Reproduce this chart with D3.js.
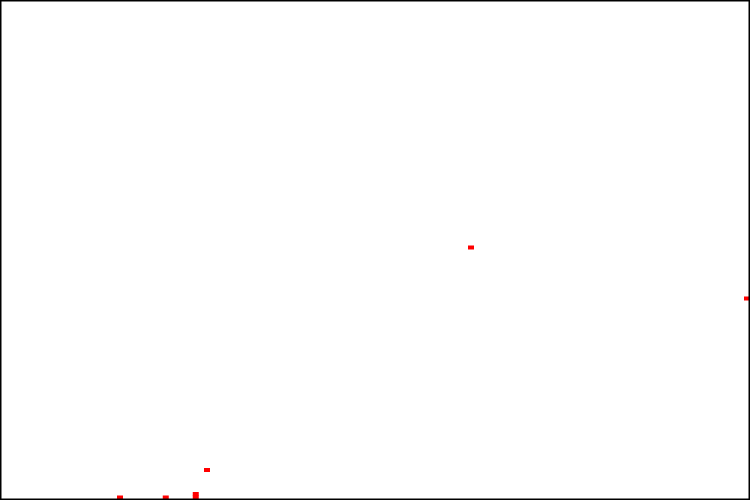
<!DOCTYPE html>
<html>
<head>
<meta charset="utf-8">
<script src="https://cdn.jsdelivr.net/npm/d3@7"></script>
<style>
	html, body { margin: 0; padding: 0; background: #fff; }
	svg { display: block; }
</style>
</head>
<body>
<div id="chart"></div>
<script>
// data (x and y both on a 0..100 scale)
var xValues = [16.0, 22.1, 26.1, 26.1, 27.6, 62.8, 99.6];
var yValues = [0.5, 0.5, 0.5, 1.2, 6.0, 50.5, 40.3];

var width = 750,
	height = 500;

// scales
var x = d3.scaleLinear().domain([0, 100]).range([0, width]);
var y = d3.scaleLinear().domain([0, 100]).range([height, 0]);

var svg = d3.select("#chart").append("svg")
	.attr("width", width)
	.attr("height", height);

var points = xValues.map(function(d, i) { return { x: d, y: yValues[i] }; });

// markers
svg.append("g").selectAll("rect")
	.data(points)
	.enter().append("rect")
	.attr("x", function(d) { return x(d.x) - 3; })
	.attr("y", function(d) { return y(d.y) - 2; })
	.attr("width", 6)
	.attr("height", 4)
	.attr("fill", "red");

// frame
svg.append("rect")
	.attr("x", 0.5)
	.attr("y", 0.5)
	.attr("width", width - 1)
	.attr("height", height - 1)
	.attr("fill", "none")
	.attr("stroke", "#000")
	.attr("stroke-width", 2);
</script>
</body>
</html>
